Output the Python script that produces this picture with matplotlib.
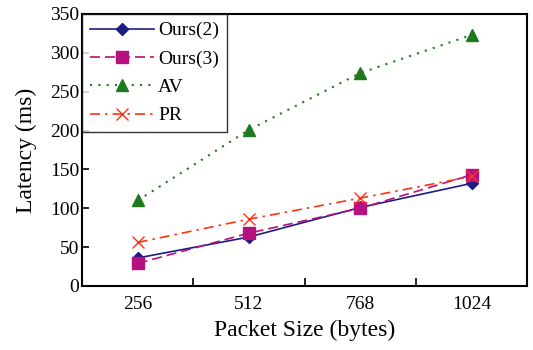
import matplotlib.pyplot as plt

plt.rcParams['font.family'] = 'Liberation Serif'

packet_sizes = ["256", "512", "768", "1024"]
ours2 = [36, 63, 101, 132]
ours3 = [29, 68, 100, 143]
av = [110, 201, 274, 323]
pr = [56, 86, 113, 141]

fig = plt.figure(figsize=(5.33, 3.5), dpi=100)
ax = fig.add_axes([0.154, 0.183, 0.835, 0.777])

x = range(len(packet_sizes))
ax.plot(x, ours2, color='#1c1c84', marker='D', markersize=6, linewidth=1.2, label='Ours(2)')
ax.plot(x, ours3, color='#b5117f', marker='s', markersize=8, linewidth=1.2,
        linestyle=(0, (6, 3)), label='Ours(3)')
ax.plot(x, av, color='#1f7a1f', marker='^', markersize=8, linewidth=1.5,
        linestyle=(0, (1, 3)), label='AV')
ax.plot(x, pr, color='#ff3311', marker='x', markersize=8, linewidth=1.2,
        linestyle=(0, (6, 3, 1.5, 3)), label='PR')

ax.set_xlim(-0.5, 3.5)
ax.set_ylim(0, 350)
ax.set_yticks(range(0, 351, 50))
ax.set_xticks(list(x))
ax.set_xticklabels(packet_sizes)
ax.set_xticks([0.5, 1.5, 2.5], minor=True)
ax.tick_params(axis='x', which='major', length=0, labelsize=14, pad=7)
ax.tick_params(axis='x', which='minor', direction='in', length=6, width=1.2)
ax.tick_params(axis='y', direction='in', length=5, width=1.2, labelsize=14, pad=2)
for s in ax.spines.values():
    s.set_linewidth(1.5)

ax.set_xlabel("Packet Size (bytes)", fontsize=17, labelpad=5)
ax.set_ylabel("Latency (ms)", fontsize=17, labelpad=9)

leg = ax.legend(loc='upper left', fontsize=14, frameon=True, fancybox=False,
                edgecolor='black', borderaxespad=0, handlelength=3.3,
                borderpad=0.4, labelspacing=0.55, handletextpad=0.2)
leg.get_frame().set_linewidth(1.0)

fig.savefig("out.png", dpi=100)
